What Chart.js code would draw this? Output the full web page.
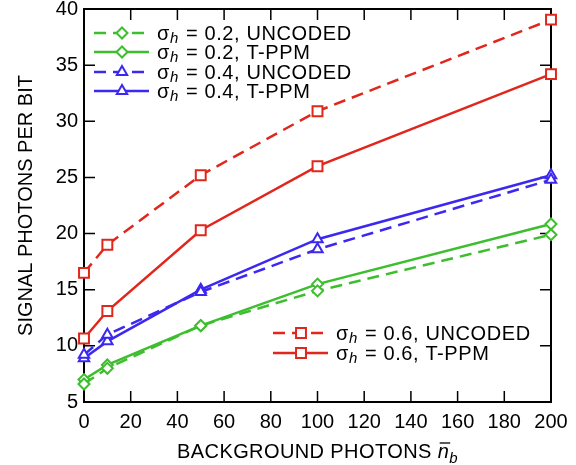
<!DOCTYPE html>
<html>
<head>
<meta charset="utf-8">
<script src="https://cdn.jsdelivr.net/npm/chart.js@4"></script>
<style>
  body { margin: 0; background: #fff; }
  #wrap { width: 576px; height: 465px; position: relative; }
</style>
</head>
<body>
<div id="wrap"><canvas id="photons_graph" width="576" height="465"></canvas></div>
<script>
// background photons (x axis)
var nb = [0, 10, 50, 100, 200];
// signal photons per bit
var s02_uncoded = [6.6, 8.0, 11.8, 14.9, 19.9];
var s02_tppm = [7.0, 8.3, 11.8, 15.5, 20.85];
var s04_uncoded = [9.2, 11.0, 14.8, 18.6, 24.8];
var s04_tppm = [8.9, 10.4, 15.0, 19.5, 25.2];
var s06_uncoded = [16.5, 19.0, 25.2, 30.9, 39.05];
var s06_tppm = [10.65, 13.1, 20.3, 26.0, 34.2];
var sigmas = ["0.2", "0.2", "0.4", "0.4", "0.6", "0.6"];
var kinds = ["UNCODED", "T-PPM", "UNCODED", "T-PPM", "UNCODED", "T-PPM"];
var xTicks = [0, 20, 40, 60, 80, 100, 120, 140, 160, 180, 200];
var yTicks = [5, 10, 15, 20, 25, 30, 35, 40];

var green = "rgb(60, 190, 45)";
var blue = "rgb(60, 40, 240)";
var red = "rgb(225, 38, 28)";
var dash = [12, 7];
var FONT = "'Liberation Sans', Arial, sans-serif";

Chart.defaults.color = "#000";
Chart.defaults.font.family = FONT;

function series(vals, color, style, dashed, r) {
  return {
    data: nb.map(function (x, i) { return { x: x, y: vals[i] }; }),
    borderColor: color,
    borderWidth: 2.5,
    borderDash: dashed ? dash : [],
    pointStyle: style,
    pointRadius: r,
    pointHoverRadius: r,
    pointBorderWidth: 2,
    pointBorderColor: color,
    pointBackgroundColor: "#fff",
    fill: false,
    tension: 0,
    clip: false,
  };
}

const data_photons = {
  datasets: [
    series(s02_uncoded, green, "rectRot", true, 5.5),
    series(s02_tppm, green, "rectRot", false, 5.5),
    series(s04_uncoded, blue, "triangle", true, 6),
    series(s04_tppm, blue, "triangle", false, 6),
    series(s06_uncoded, red, "rect", true, 7),
    series(s06_tppm, red, "rect", false, 7),
  ],
};

// box + inward ticks on all four sides
const frame = {
  id: "frame",
  beforeDatasetsDraw(chart) {
    const ctx = chart.ctx;
    const a = chart.chartArea;
    const xs = chart.scales.x, ys = chart.scales.y;
    ctx.save();
    ctx.strokeStyle = "#000";
    ctx.lineWidth = 1.5;
    xTicks.forEach(function (v) {
      const px = xs.getPixelForValue(v);
      ctx.beginPath();
      ctx.moveTo(px, a.bottom); ctx.lineTo(px, a.bottom - 11);
      ctx.moveTo(px, a.top); ctx.lineTo(px, a.top + 11);
      ctx.stroke();
    });
    yTicks.forEach(function (v) {
      const py = ys.getPixelForValue(v);
      ctx.beginPath();
      ctx.moveTo(a.left, py); ctx.lineTo(a.left + 11, py);
      ctx.moveTo(a.right, py); ctx.lineTo(a.right - 11, py);
      ctx.stroke();
    });
    ctx.lineWidth = 2;
    ctx.strokeRect(a.left, a.top, a.right - a.left, a.bottom - a.top);
    ctx.restore();
  },
};

function sigmaLabel(ctx, x, y, sig, kind) {
  ctx.font = "20px " + FONT;
  ctx.fillText("\u03C3", x, y);
  x += ctx.measureText("\u03C3").width;
  ctx.font = "italic 15px " + FONT;
  ctx.fillText("h", x, y + 5);
  x += ctx.measureText("h").width + 1;
  ctx.font = "20px " + FONT;
  ctx.fillText(" = " + sig + ", " + kind, x, y);
}

// legend with subscripts + x axis title
const legendPlugin = {
  id: "legendPlugin",
  afterDatasetsDraw(chart) {
    const ctx = chart.ctx;
    const rows = [
      { i: 0, x0: 94, y: 33 }, { i: 1, x0: 94, y: 52 },
      { i: 2, x0: 94, y: 72 }, { i: 3, x0: 94, y: 91 },
      { i: 4, x0: 273, y: 333 }, { i: 5, x0: 273, y: 353 },
    ];
    ctx.save();
    rows.forEach(function (r) {
      const ds = chart.data.datasets[r.i];
      ctx.strokeStyle = ds.borderColor;
      ctx.lineWidth = 2.5;
      ctx.setLineDash(ds.borderDash);
      ctx.beginPath();
      ctx.moveTo(r.x0, r.y); ctx.lineTo(r.x0 + 55, r.y);
      ctx.stroke();
      ctx.setLineDash([]);
      ctx.fillStyle = "#fff";
      ctx.lineWidth = 2;
      Chart.helpers.drawPoint(ctx, { pointStyle: ds.pointStyle, radius: ds.pointRadius, borderWidth: 2, rotation: 0 }, r.x0 + 28, r.y);
      ctx.fillStyle = "#000";
      ctx.textBaseline = "middle";
      ctx.textAlign = "left";
      ctx.letterSpacing = "0.6px";
      sigmaLabel(ctx, r.x0 + 63, r.y + 1, sigmas[r.i], kinds[r.i]);
      ctx.letterSpacing = "0px";
    });
    // x title
    const a = chart.chartArea;
    ctx.textBaseline = "alphabetic";
    ctx.letterSpacing = "0.4px";
    ctx.font = "20px " + FONT;
    const t1 = "BACKGROUND PHOTONS ";
    const w1 = ctx.measureText(t1).width;
    ctx.font = "italic 20px " + FONT;
    const w2 = ctx.measureText("n").width;
    ctx.font = "italic 15px " + FONT;
    const w3 = ctx.measureText("b").width;
    let x = (a.left + a.right) / 2 - (w1 + w2 + w3) / 2;
    const base = 458;
    ctx.font = "20px " + FONT;
    ctx.fillText(t1, x, base);
    x += w1;
    ctx.font = "italic 20px " + FONT;
    ctx.fillText("n", x, base);
    ctx.lineWidth = 1.3;
    ctx.strokeStyle = "#000";
    ctx.beginPath();
    ctx.moveTo(x + 2, base - 15); ctx.lineTo(x + w2 + 1, base - 15);
    ctx.stroke();
    x += w2;
    ctx.font = "italic 15px " + FONT;
    ctx.fillText("b", x, base + 5);
    ctx.restore();
  },
};

// Configuration options
const config_photons = {
  type: "line",
  data: data_photons,
  options: {
    responsive: false,
    animation: false,
    events: [],
    layout: { padding: { top: 6, right: 25, left: 0, bottom: 0 } },
    plugins: { legend: { display: false }, tooltip: { enabled: false } },
    scales: {
      x: {
        type: "linear",
        min: 0,
        max: 200,
        grid: { display: false, drawTicks: false },
        border: { display: false },
        ticks: { stepSize: 20, maxRotation: 0, padding: 8, font: { size: 20 } },
        afterFit: function (s) { s.height = 63; s.paddingLeft = 0; s.paddingRight = 0; },
      },
      y: {
        min: 5,
        max: 40,
        grid: { display: false, drawTicks: false },
        border: { display: false },
        ticks: { stepSize: 5, padding: 6, font: { size: 20 } },
        title: { display: true, text: "SIGNAL PHOTONS PER BIT", font: { size: 20 }, padding: { top: 14, bottom: 0 } },
        afterFit: function (s) { s.width = 84; s.paddingTop = 0; s.paddingBottom = 0; },
      },
    },
  },
  plugins: [frame, legendPlugin],
};

new Chart(document.getElementById("photons_graph"), config_photons);
</script>
</body>
</html>
